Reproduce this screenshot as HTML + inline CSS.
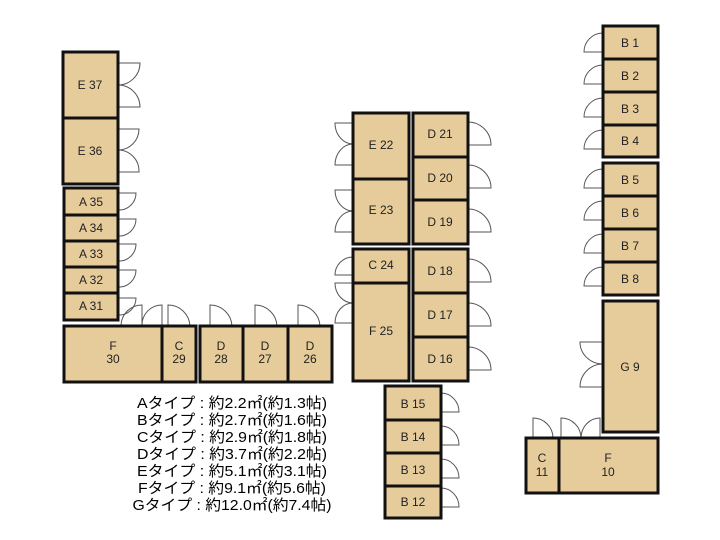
<!DOCTYPE html>
<html><head><meta charset="utf-8"><style>
html,body{margin:0;padding:0;background:#fff;}
svg{display:block;}
.r{fill:#e6cc9b;stroke:#111;stroke-width:3;}
.d{fill:none;stroke:#555;stroke-width:1;}
.t{font-family:"Liberation Sans","Noto Sans CJK JP",sans-serif;font-size:12px;fill:#222;text-anchor:middle;}
.l{font-family:"Liberation Sans","Noto Sans CJK JP",sans-serif;font-size:15px;fill:#000;text-anchor:middle;}
</style></head><body>
<svg width="720" height="540" viewBox="0 0 720 540" xmlns="http://www.w3.org/2000/svg">
<g class="d">
<path d="M118,63 H140 A22,22 0 0 1 118,85 M118,107 H140 A22,22 0 0 0 118,85"/>
<path d="M118,129 H139 A21,21 0 0 1 118,150 M118,172 H139 A21,21 0 0 0 118,150"/>
<path d="M118,193 H136 A17,17 0 0 1 118,210"/>
<path d="M118,219 H136 A17,17 0 0 1 118,236"/>
<path d="M118,244 H136 A17,17 0 0 1 118,261"/>
<path d="M118,270 H136 A17,17 0 0 1 118,287"/>
<path d="M118,298 H136 A17,17 0 0 1 118,315"/>
<path d="M142,326 V305 A21,21 0 0 0 121,326"/>
<path d="M162,326 V305 A20,20 0 0 0 142,326"/>
<path d="M168,326 V305 A22,22 0 0 1 190,326"/>
<path d="M210,326 V305 A22,22 0 0 1 232,326"/>
<path d="M255,326 V305 A22,22 0 0 1 277,326"/>
<path d="M298,326 V305 A22,22 0 0 1 320,326"/>
<path d="M353,123 H335 A18,21 0 0 0 353,144 M353,165 H335 A18,21 0 0 1 353,144"/>
<path d="M353,190 H335 A18,21 0 0 0 353,211 M353,232 H335 A18,21 0 0 1 353,211"/>
<path d="M353,257 A18,18 0 0 0 335,275 H353"/>
<path d="M353,283 H335 A18,20 0 0 0 353,303 M353,323 H335 A18,20 0 0 1 353,303"/>
<path d="M468,122 A23,23 0 0 1 491,145 H468"/>
<path d="M468,165 A23,23 0 0 1 491,188 H468"/>
<path d="M468,209 A23,23 0 0 1 491,232 H468"/>
<path d="M468,259 A23,23 0 0 1 491,282 H468"/>
<path d="M468,303 A23,23 0 0 1 491,326 H468"/>
<path d="M468,347 A23,23 0 0 1 491,370 H468"/>
<path d="M441,393 A18,19 0 0 1 459,412 H441"/>
<path d="M441,426 A18,19 0 0 1 459,445 H441"/>
<path d="M441,459 A18,19 0 0 1 459,478 H441"/>
<path d="M441,488 A18,19 0 0 1 459,507 H441"/>
<path d="M603,33 A19,19 0 0 0 584,52 H603"/>
<path d="M603,65 A19,19 0 0 0 584,84 H603"/>
<path d="M603,98 A19,19 0 0 0 584,117 H603"/>
<path d="M603,130 A19,19 0 0 0 584,149 H603"/>
<path d="M603,169 A19,19 0 0 0 584,188 H603"/>
<path d="M603,201 A19,19 0 0 0 584,220 H603"/>
<path d="M603,234 A19,19 0 0 0 584,253 H603"/>
<path d="M603,267 A19,19 0 0 0 584,286 H603"/>
<path d="M603,342 H580 A23,22 0 0 0 603,364 M603,387 H580 A23,23 0 0 1 603,364"/>
<path d="M533,438 V418 A20,20 0 0 1 553,438"/>
<path d="M561,438 V418 A20,20 0 0 1 581,438 M600,438 V418 A19,20 0 0 0 581,438"/>
</g>
<g>
<rect class="r" x="63" y="52" width="55" height="66"/>
<rect class="r" x="63" y="118" width="55" height="66"/>
<rect class="r" x="64" y="188" width="54" height="27"/>
<rect class="r" x="64" y="215" width="54" height="26"/>
<rect class="r" x="64" y="241" width="54" height="26"/>
<rect class="r" x="64" y="267" width="54" height="26"/>
<rect class="r" x="64" y="293" width="54" height="27"/>
<rect class="r" x="64" y="326" width="98" height="56"/>
<rect class="r" x="162" y="326" width="34" height="56"/>
<rect class="r" x="200" y="326" width="43" height="56"/>
<rect class="r" x="243" y="326" width="45" height="56"/>
<rect class="r" x="288" y="326" width="44" height="56"/>
<rect class="r" x="353" y="113" width="56" height="66"/>
<rect class="r" x="353" y="179" width="56" height="65"/>
<rect class="r" x="413" y="113" width="55" height="44"/>
<rect class="r" x="413" y="157" width="55" height="43"/>
<rect class="r" x="413" y="200" width="55" height="44"/>
<rect class="r" x="353" y="249" width="56" height="34"/>
<rect class="r" x="353" y="283" width="56" height="98"/>
<rect class="r" x="413" y="249" width="55" height="44"/>
<rect class="r" x="413" y="293" width="55" height="44"/>
<rect class="r" x="413" y="337" width="55" height="44"/>
<rect class="r" x="385" y="386" width="56" height="34"/>
<rect class="r" x="385" y="420" width="56" height="33"/>
<rect class="r" x="385" y="453" width="56" height="33"/>
<rect class="r" x="385" y="486" width="56" height="32"/>
<rect class="r" x="603" y="26" width="55" height="33"/>
<rect class="r" x="603" y="59" width="55" height="33"/>
<rect class="r" x="603" y="92" width="55" height="33"/>
<rect class="r" x="603" y="125" width="55" height="32"/>
<rect class="r" x="603" y="163" width="55" height="33"/>
<rect class="r" x="603" y="196" width="55" height="33"/>
<rect class="r" x="603" y="229" width="55" height="33"/>
<rect class="r" x="603" y="262" width="55" height="33"/>
<rect class="r" x="603" y="301" width="55" height="131"/>
<rect class="r" x="526" y="438" width="33" height="55"/>
<rect class="r" x="559" y="438" width="99" height="55"/>
</g>
<g class="t">
<text x="90" y="89">E 37</text>
<text x="90" y="155">E 36</text>
<text x="91" y="206">A 35</text>
<text x="91" y="232">A 34</text>
<text x="91" y="258">A 33</text>
<text x="91" y="284">A 32</text>
<text x="91" y="310">A 31</text>
<text x="113" y="350">F</text><text x="113" y="363">30</text>
<text x="179" y="350">C</text><text x="179" y="363">29</text>
<text x="221" y="350">D</text><text x="221" y="363">28</text>
<text x="265" y="350">D</text><text x="265" y="363">27</text>
<text x="310" y="350">D</text><text x="310" y="363">26</text>
<text x="381" y="149">E 22</text>
<text x="381" y="214">E 23</text>
<text x="440" y="138">D 21</text>
<text x="440" y="182">D 20</text>
<text x="440" y="226">D 19</text>
<text x="381" y="269">C 24</text>
<text x="381" y="335">F 25</text>
<text x="440" y="275">D 18</text>
<text x="440" y="319">D 17</text>
<text x="440" y="363">D 16</text>
<text x="413" y="408">B 15</text>
<text x="413" y="441">B 14</text>
<text x="413" y="474">B 13</text>
<text x="413" y="506">B 12</text>
<text x="630" y="47">B 1</text>
<text x="630" y="80">B 2</text>
<text x="630" y="113">B 3</text>
<text x="630" y="145">B 4</text>
<text x="630" y="184">B 5</text>
<text x="630" y="217">B 6</text>
<text x="630" y="250">B 7</text>
<text x="630" y="283">B 8</text>
<text x="630" y="371">G 9</text>
<text x="542" y="462">C</text><text x="542" y="476">11</text>
<text x="608" y="462">F</text><text x="608" y="476">10</text>
</g>
<g class="l">
<text x="232" y="408" textLength="190" lengthAdjust="spacingAndGlyphs">Aタイプ : 約2.2㎡(約1.3帖)</text>
<text x="232" y="425" textLength="190" lengthAdjust="spacingAndGlyphs">Bタイプ : 約2.7㎡(約1.6帖)</text>
<text x="232" y="442" textLength="190" lengthAdjust="spacingAndGlyphs">Cタイプ : 約2.9㎡(約1.8帖)</text>
<text x="232" y="459" textLength="190" lengthAdjust="spacingAndGlyphs">Dタイプ : 約3.7㎡(約2.2帖)</text>
<text x="232" y="476" textLength="190" lengthAdjust="spacingAndGlyphs">Eタイプ : 約5.1㎡(約3.1帖)</text>
<text x="232" y="493" textLength="188" lengthAdjust="spacingAndGlyphs">Fタイプ : 約9.1㎡(約5.6帖)</text>
<text x="232" y="510" textLength="199" lengthAdjust="spacingAndGlyphs">Gタイプ : 約12.0㎡(約7.4帖)</text>
</g>
</svg>
</body></html>
